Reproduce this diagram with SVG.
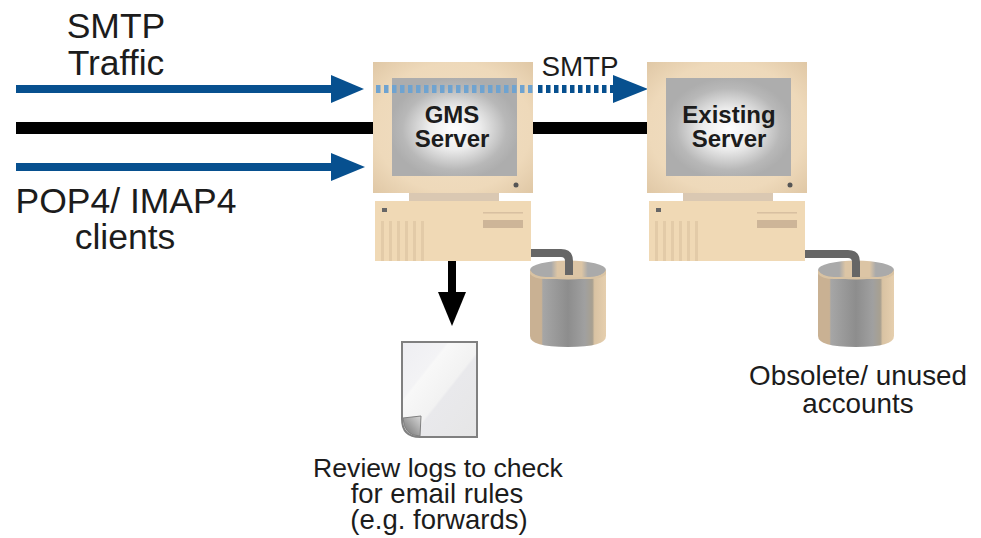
<svg xmlns="http://www.w3.org/2000/svg" width="981" height="538" viewBox="0 0 981 538">
<style>
text{font-family:"Liberation Sans",Arial,sans-serif;fill:#1c1c1c;text-anchor:middle}
.big{font-size:35.500px}.mid{font-size:27.800px}.rev{font-size:26.600px}.rev2{font-size:27.500px}.obs{font-size:27.800px}
.scr{font-size:24px;font-weight:bold}
.tan{fill:#f0d9b5}.dk{fill:#cdb598}.slot{fill:#e3cba8}
</style>
<defs>
<radialGradient id="mon" cx="50%" cy="50%" r="70%"><stop offset="0" stop-color="#f1dfc4"/><stop offset="0.7" stop-color="#eed9ba"/><stop offset="1" stop-color="#e0c8a6"/></radialGradient>
<radialGradient id="glow" cx="50%" cy="52%" r="52%"><stop offset="0" stop-color="#fff"/><stop offset="0.4" stop-color="#ececec"/><stop offset="0.8" stop-color="#b8b8b8"/><stop offset="1" stop-color="#adadad"/></radialGradient>
<linearGradient id="drum" x1="0" x2="1" y1="0" y2="0"><stop offset="0" stop-color="#c9b193"/><stop offset="0.15" stop-color="#c9b193"/><stop offset="0.17" stop-color="#a6a6a6"/><stop offset="0.3" stop-color="#9c9c9c"/><stop offset="0.5" stop-color="#8d8d8d"/><stop offset="0.72" stop-color="#a0a0a0"/><stop offset="0.82" stop-color="#a8a090"/><stop offset="0.85" stop-color="#d9c3a3"/><stop offset="1" stop-color="#e6cfae"/></linearGradient>
<linearGradient id="top" x1="0" x2="1" y1="0" y2="0"><stop offset="0" stop-color="#aaa"/><stop offset="0.28" stop-color="#aaa"/><stop offset="0.36" stop-color="#dcc5a5"/><stop offset="0.68" stop-color="#dcc5a5"/><stop offset="0.76" stop-color="#aaa"/><stop offset="1" stop-color="#aaa"/></linearGradient>
<linearGradient id="paper" x1="0" y1="0" x2="1" y2="1"><stop offset="0" stop-color="#eeeef2"/><stop offset="0.3" stop-color="#f3f3f5"/><stop offset="0.32" stop-color="#f8f8f8"/><stop offset="0.55" stop-color="#f2f2f2"/><stop offset="0.57" stop-color="#e9e9ec"/><stop offset="1" stop-color="#e6e6e6"/></linearGradient>
<linearGradient id="fold" x1="0" y1="1" x2="1" y2="0"><stop offset="0" stop-color="#6e6e6e"/><stop offset="1" stop-color="#d8d8d8"/></linearGradient>
<g id="pc">
<rect fill="url(#mon)" x="0" y="0" width="160" height="131"/>
<rect fill="url(#glow)" x="19" y="16" width="125" height="98"/>
<circle cx="143" cy="123" r="2.500" fill="#555"/>
<rect class="dk" x="36" y="131" width="90" height="8" opacity="0.75"/>
<rect class="tan" x="2" y="139" width="156" height="60"/>
<rect x="9" y="146" width="5" height="4" fill="#666"/>
<g class="slot"><rect x="8" y="159" width="3" height="40"/><rect x="16" y="159" width="3" height="40"/><rect x="24" y="159" width="3" height="40"/><rect x="32" y="159" width="3" height="40"/><rect x="40" y="159" width="3" height="40"/><rect x="48" y="159" width="3" height="40"/></g>
<rect class="dk" x="110" y="150" width="40" height="1.500" opacity="0.7"/>
<rect class="dk" x="110" y="158" width="40" height="8"/>
</g>
<g id="drumshape">
<path d="M0 10V76Q0 87 38 87T76 76V10Z" fill="url(#drum)"/>
<ellipse cx="38" cy="10" rx="38" ry="9.500" fill="url(#top)"/>
<path d="M0 10Q4 17 16 17H60Q72 17 76 10V14Q72 19 60 19H16Q4 19 0 14Z" fill="#d9c3a3"/>
</g>
</defs>
<rect width="981" height="538" fill="#fff"/>
<g id="connectors">
<rect x="16" y="85" width="316" height="8" fill="#07508f"/><path d="M331 75L364 89L331 103Z" fill="#07508f"/>
<rect x="16" y="122" width="358" height="12" fill="#000"/>
<rect x="533" y="122" width="114" height="12" fill="#000"/>
<rect x="16" y="163" width="316" height="8" fill="#07508f"/><path d="M331 153L365 167L331 181Z" fill="#07508f"/>
<line x1="538" y1="89" x2="616" y2="89" stroke="#07508f" stroke-width="8" stroke-dasharray="4.500 3.500"/><path d="M613 75L648 89L613 103Z" fill="#07508f"/>
<rect x="448" y="261" width="8" height="34" fill="#000"/><path d="M438 292H466L452 326Z" fill="#000"/>
</g>
<g id="gms-server"><use href="#pc" x="373" y="62"/>
<line x1="376" y1="89" x2="533" y2="89" stroke="#6fa3d0" stroke-width="8" stroke-dasharray="4.500 3.500"/>
<text class="scr" x="452" y="123">GMS</text><text class="scr" x="452" y="147">Server</text></g>
<g id="existing-server"><use href="#pc" x="647" y="62"/>
<text class="scr" x="729" y="123">Existing</text><text class="scr" x="729" y="147">Server</text></g>
<g id="drum-1"><use href="#drumshape" x="530" y="260"/>
<path d="M531 253H561Q569 253 569 261V275" fill="none" stroke="#666" stroke-width="8"/></g>
<g id="drum-2"><use href="#drumshape" x="818" y="260"/>
<path d="M805 254H848Q856 254 856 262V277" fill="none" stroke="#666" stroke-width="8"/></g>
<g id="log-file"><path d="M402 342H477V437H420Q402 437 402 419Z" fill="url(#paper)" stroke="#808080" stroke-width="2"/>
<path d="M403 418L421 416L420 436Q404 436 403 418Z" fill="url(#fold)" stroke="#808080" stroke-width="1"/></g>
<g id="labels">
<text class="big" x="116" y="38">SMTP</text><text class="big" x="116" y="75">Traffic</text>
<text class="big" x="126" y="213">POP4/ IMAP4</text><text class="big" x="125" y="249">clients</text>
<text class="mid" x="580" y="76">SMTP</text>
<text class="rev" x="438" y="477">Review logs to check</text><text class="rev2" x="437" y="503">for email rules</text><text class="rev2" x="439" y="529">(e.g. forwards)</text>
<text class="obs" x="858" y="385">Obsolete/ unused</text><text class="obs" x="858" y="413">accounts</text>
</g>
</svg>
